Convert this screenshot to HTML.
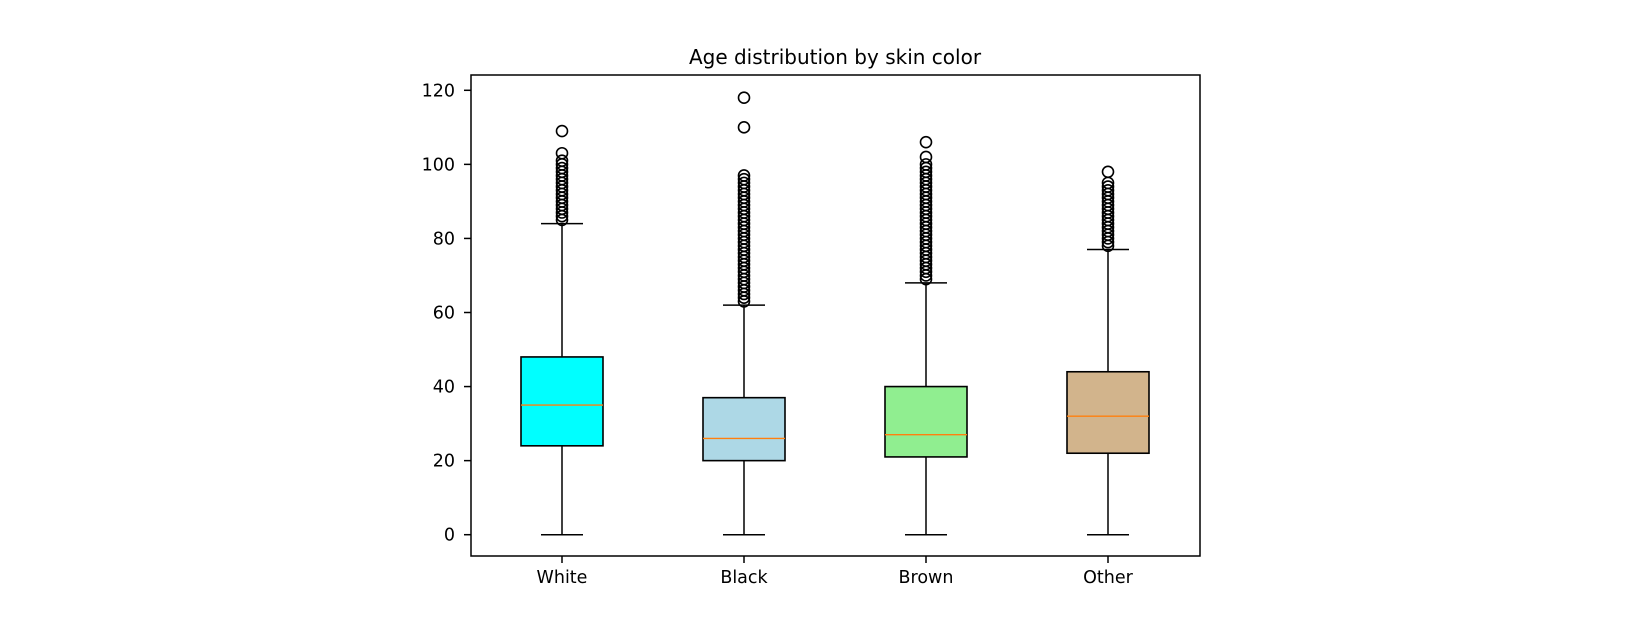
<!DOCTYPE html>
<html><head><meta charset="utf-8"><style>
body{margin:0;background:#fff}
svg text{font-family:"DejaVu Sans","Liberation Sans",sans-serif;fill:#000}
</style></head><body>
<svg id="c" width="1646" height="625" xmlns="http://www.w3.org/2000/svg"></svg>
<script>
const categories=["White","Black","Brown","Other"];
const colors=["#00ffff","#add8e6","#90ee90","#d2b48c"];
const q1=[24,20,21,22];
const medians=[35,26,27,32];
const q3=[48,37,40,44];
const whiskLow=[0,0,0,0];
const whiskHigh=[84,62,68,77];
const outliers=[
[85,86,87,88,89,90,91,92,93,94,95,96,97,98,99,100,101,103,109],
[63,64,65,66,67,68,69,70,71,72,73,74,75,76,77,78,79,80,81,82,83,84,85,86,87,88,89,90,91,92,93,94,95,96,97,110,118],
[69,70,71,72,73,74,75,76,77,78,79,80,81,82,83,84,85,86,87,88,89,90,91,92,93,94,95,96,97,98,99,100,102,106],
[78,79,80,81,82,83,84,85,86,87,88,89,90,91,92,93,94,95,98]];
const yTicks=[0,20,40,60,80,100,120];
const L=471,R=1200,T=75,B=556;
const y=v=>534.7-v*(444.4/120);
const x=i=>562+i*182;
const bw=82;
const svg=document.getElementById('c');
const NS='http://www.w3.org/2000/svg';
function mk(t,a,name){const e=document.createElementNS(NS,t);for(const k in a)e.setAttribute(k,a[k]);


svg.appendChild(e);return e;}
const title=mk('text',{x:835,y:64,'text-anchor':'middle','font-size':20},'chart-title');title.textContent='Age distribution by skin color';
yTicks.forEach(v=>{mk('line',{x1:L-7,x2:L,y1:y(v),y2:y(v),stroke:'#000','stroke-width':1.5},'y-tick');
const t=mk('text',{x:455,y:y(v)+6,'text-anchor':'end','font-size':17.5},'y-tick-label');t.textContent=v;});
categories.forEach((c,i)=>{const cx=x(i);
mk('line',{x1:cx,x2:cx,y1:B,y2:B+7,stroke:'#000','stroke-width':1.5},'x-tick');
const t=mk('text',{x:cx,y:B+27,'text-anchor':'middle','font-size':17.5},'x-tick-label');t.textContent=c;
mk('line',{x1:cx,x2:cx,y1:y(q1[i]),y2:y(whiskLow[i]),stroke:'#000','stroke-width':1.5},'lower-whisker');
mk('line',{x1:cx,x2:cx,y1:y(q3[i]),y2:y(whiskHigh[i]),stroke:'#000','stroke-width':1.5},'upper-whisker');
mk('line',{x1:cx-21,x2:cx+21,y1:y(whiskLow[i]),y2:y(whiskLow[i]),stroke:'#000','stroke-width':1.5},'lower-cap');
mk('line',{x1:cx-21,x2:cx+21,y1:y(whiskHigh[i]),y2:y(whiskHigh[i]),stroke:'#000','stroke-width':1.5},'upper-cap');
mk('rect',{x:cx-bw/2,y:y(q3[i]),width:bw,height:y(q1[i])-y(q3[i]),fill:colors[i],stroke:'#000','stroke-width':1.6},'box-'+c.toLowerCase());
mk('line',{x1:cx-bw/2,x2:cx+bw/2,y1:y(medians[i]),y2:y(medians[i]),stroke:'#ff7f0e','stroke-width':1.3},'median-line');
outliers[i].forEach(v=>mk('circle',{cx:cx,cy:y(v),r:5.5,fill:'none',stroke:'#000','stroke-width':1.6},'outlier'));
});
mk('rect',{x:L,y:T,width:R-L,height:B-T,fill:'none',stroke:'#000','stroke-width':1.5},'plot-frame');
</script>
</body></html>
